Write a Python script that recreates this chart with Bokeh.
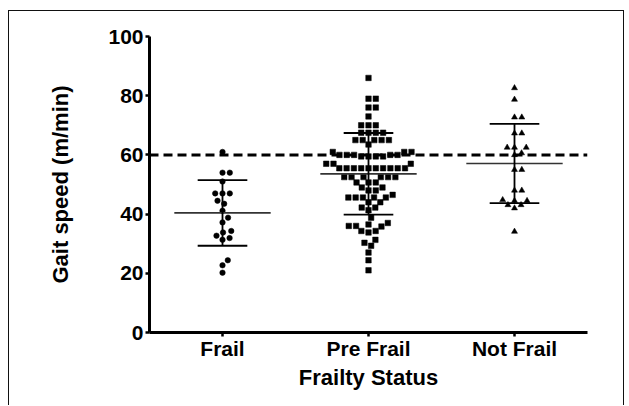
import math
from bokeh.plotting import figure
from bokeh.models import Range1d, FixedTicker, Span, ColumnDataSource
from bokeh.embed import file_html
from bokeh.resources import INLINE

# ---------------- data ----------------
categories = ["Frail", "Pre Frail", "Not Frail"]

frail = [61, 54, 54, 51, 47, 47, 47, 44.5, 43.5, 41.1, 38.8, 37.2, 34.3,
         33.8, 32.7, 31.9, 31.3, 24.4, 22.7, 20.2]

pre_frail = [86, 79, 79, 76, 76, 73, 70, 70, 70, 67.5, 67.5, 67.5, 67.5,
             65, 65, 65, 65, 65, 63.5,
             61, 61, 61, 60, 60, 60, 60, 60, 59.5, 59.5, 59.5, 59.5,
             57, 57, 57,
             55.5, 55.5, 55.5, 55.5, 55.5, 55.5, 55.5, 55.5, 55.5, 55.5,
             52.5, 52.5, 52.5, 52.5, 52.5, 52.5,
             50.7, 50.7, 50.7, 49, 49, 48, 48, 46.5,
             45.6, 45.6, 45.6, 45.6, 45.6, 44, 44, 42.2, 42.2, 41.3,
             38.8, 37, 36.5, 36, 36, 35.8, 34.3, 34.3, 33.8,
             31.3, 30.3, 29.3, 27, 24.4, 21]

not_frail = [82.6, 78.7, 72.7, 72.7, 67.3, 67.3, 62.5, 62.5, 62.5, 60.6, 60,
             55, 55, 48, 48, 44.5, 44.8, 44.5, 43.1, 43.1, 42, 34.1]

# mean and SD of each group, as drawn in the reference
means = [40.4, 53.6, 57.1]
sds = [11.1, 13.8, 13.4]

threshold = 60  # dashed reference line (m/min)

# ---------------- layout ----------------
FRAME_W, FRAME_H = 438, 296
PX_X = FRAME_W / 3.0     # pixels per x unit
PX_Y = FRAME_H / 100.0   # pixels per y unit


def swarm(vals, d=7.3):
    """Beeswarm offsets (in x data units) so markers do not overlap."""
    order = sorted(range(len(vals)), key=lambda i: vals[i])
    placed = []
    xs = [0.0] * len(vals)
    for i in order:
        y = vals[i] * PX_Y
        ivs = []
        for (px, py) in placed:
            dy = abs(py - y)
            if dy < d:
                w = math.sqrt(d * d - dy * dy)
                ivs.append((px - w, px + w))
        cands = [0.0] + [a for a, b in ivs] + [b for a, b in ivs]
        cands.sort(key=lambda c: (round(abs(c), 6), -c))
        x = 0.0
        for c in cands:
            if all(not (a + 1e-6 < c < b - 1e-6) for a, b in ivs):
                x = c
                break
        placed.append((x, y))
        xs[i] = x / PX_X
    return xs


p = figure(frame_width=FRAME_W, frame_height=FRAME_H,
           min_border_left=140, min_border_right=36,
           min_border_top=25, min_border_bottom=73,
           x_range=Range1d(0.5, 3.5), y_range=Range1d(0, 100),
           output_backend="svg", toolbar_location=None)
p.styles = {"margin-left": "8px", "margin-top": "10px",
            "border-top": "1px solid #111", "border-left": "1px solid #111",
            "border-right": "1px solid #111"}
p.outline_line_color = None
p.grid.visible = False
p.background_fill_color = "white"

FONT = "Liberation Sans"

# axes
for ax in (p.xaxis[0], p.yaxis[0]):
    ax.axis_line_width = 3
    ax.axis_line_color = "black"
    ax.major_tick_line_width = 2.5
    ax.major_tick_line_color = "black"
    ax.major_tick_out = 4
    ax.major_tick_in = 0
    ax.minor_tick_line_color = None
    ax.major_label_text_font = FONT
    ax.major_label_text_font_style = "bold"
    ax.major_label_text_font_size = "21px"
    ax.major_label_text_color = "black"
    ax.axis_label_text_font = FONT
    ax.axis_label_text_font_style = "bold"
    ax.axis_label_text_font_size = "22px"
    ax.axis_label_text_color = "black"

p.xaxis.ticker = FixedTicker(ticks=[i + 1 for i in range(len(categories))])
p.xaxis.major_label_overrides = {i + 1: c for i, c in enumerate(categories)}
p.xaxis.major_label_standoff = 0
p.xaxis.axis_label = "Frailty Status"
p.xaxis.axis_label_standoff = 2

p.yaxis.ticker = FixedTicker(ticks=[0, 20, 40, 60, 80, 100])
p.yaxis.major_label_standoff = 2
p.yaxis.axis_label = "Gait speed (m/min)"
p.yaxis.axis_label_standoff = 32

# dashed reference line
p.add_layout(Span(location=threshold, dimension="width", line_color="black",
                  line_width=3, line_dash="9 5"))

# points
groups = [frail, pre_frail, not_frail]
markers = ["circle", "square", "triangle"]
sizes = [5.5, 5.5, 6]
for gi, (vals, mk, sz) in enumerate(zip(groups, markers, sizes)):
    offs = swarm(vals)
    src = ColumnDataSource(dict(x=[gi + 1 + o for o in offs], y=vals))
    p.scatter("x", "y", source=src, marker=mk, size=sz,
              fill_color="black", line_color="black", line_width=0.5)

# error bars (mean +/- SD)
xc = [i + 1 for i in range(len(categories))]
MEAN_HW, CAP_HW = 0.33, 0.17
mean_src = ColumnDataSource(dict(x0=[x - MEAN_HW for x in xc], x1=[x + MEAN_HW for x in xc],
                                 y=means))
p.segment("x0", "y", "x1", "y", source=mean_src, line_color="#333333", line_width=1.6)

lo = [m - s for m, s in zip(means, sds)]
hi = [m + s for m, s in zip(means, sds)]
vs = ColumnDataSource(dict(x=xc, lo=lo, hi=hi))
p.segment("x", "lo", "x", "hi", source=vs, line_color="black", line_width=1.8)
cap_src = ColumnDataSource(dict(x0=[x - CAP_HW for x in xc] * 2,
                                x1=[x + CAP_HW for x in xc] * 2,
                                y=lo + hi))
p.segment("x0", "y", "x1", "y", source=cap_src, line_color="black", line_width=1.8)

open("out.html", "w").write(file_html(p, INLINE))
